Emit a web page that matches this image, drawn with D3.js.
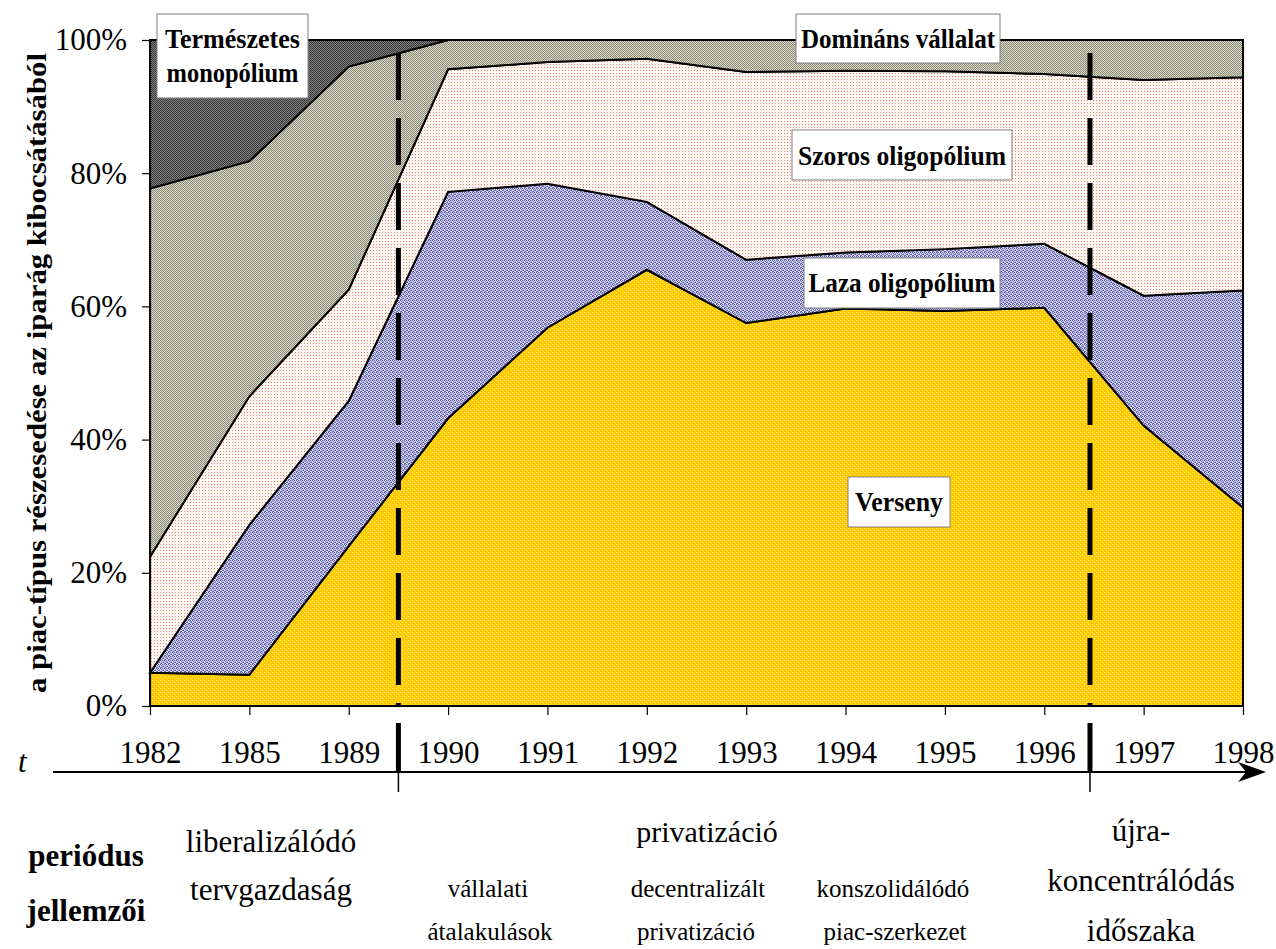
<!DOCTYPE html>
<html lang="hu">
<head>
<meta charset="UTF-8">
<title>Piac-típusok részesedése</title>
<script src="https://cdn.jsdelivr.net/npm/d3@7"></script>
<style>
  body { margin: 0; background: #fff; }
  svg text { font-family: "Liberation Serif", "Times New Roman", serif; fill: #000; }
</style>
</head>
<body>
<script>
// adatok (% az iparág kibocsátásából)
const years = ['1982','1985','1989','1990','1991','1992','1993','1994','1995','1996','1997','1998'];
const verseny     = [5.0, 4.7, 24.0, 43.2, 56.8, 65.5, 57.5, 59.7, 59.3, 59.8, 42.1, 29.8];
const laza        = [0.0, 22.5, 21.8, 34.0, 21.6, 10.2, 9.5, 8.4, 9.3, 9.6, 19.5, 32.6];
const szoros      = [17.4, 19.3, 16.7, 18.4, 18.3, 21.5, 28.2, 27.3, 26.7, 25.5, 32.4, 32.0];
const dominans    = [55.3, 35.3, 33.5, 4.4, 3.3, 2.8, 4.8, 4.6, 4.7, 5.1, 6.0, 5.6];
const termeszetes = [22.3, 18.2, 4.0, 0, 0, 0, 0, 0, 0, 0, 0, 0];
const yTicks = [0, 20, 40, 60, 80, 100];
const seriesKeys = ['verseny', 'laza', 'szoros', 'dominans', 'termeszetes'];
// korszakhatár: két év között, t = hányad a két év közti távolságból
const periodBreaks = [['1989', '1990', 0.5], ['1996', '1997', 0.46]];

const W = 1276, H = 949;
const svg = d3.select('body').append('svg').attr('width', W).attr('height', H);

const x = d3.scalePoint().domain(years).range([150, 1243]);
const y = d3.scaleLinear().domain([0, 100]).range([706, 40]);

// minták
const defs = svg.append('defs');
function pattern(id, size, bg, dots) {
  const p = defs.append('pattern').attr('id', id)
    .attr('patternUnits', 'userSpaceOnUse').attr('width', size).attr('height', size);
  p.append('rect').attr('width', size).attr('height', size).attr('fill', bg);
  dots.forEach(d => p.append('rect').attr('x', d[0]).attr('y', d[1]).attr('width', 1).attr('height', 1).attr('fill', d[2]));
}
pattern('p-verseny', 4, '#FFCC00', [[0,0,'#FFE680'],[2,2,'#FFE680'],[1,3,'#F5C000']]);
pattern('p-laza', 4, '#D4D4EE', [[0,0,'#5A5AAA'],[2,0,'#5A5AAA'],[1,1,'#6E6EB8'],[3,2,'#5A5AAA'],[0,3,'#7A7AC0'],[2,2,'#8080C0'],[3,1,'#9999CC'],[1,3,'#5A5AAA']]);
pattern('p-szoros', 3, '#FFF7F3', [[1,1,'#E28A6C']]);
pattern('p-dominans', 2, '#DADACB', [[0,0,'#8A8A76'],[1,1,'#8A8A76']]);
pattern('p-termeszetes', 2, '#828282', [[0,0,'#363636'],[1,1,'#363636']]);

const rows = years.map((yr, i) => ({
  year: yr, verseny: verseny[i], laza: laza[i], szoros: szoros[i],
  dominans: dominans[i], termeszetes: termeszetes[i]
}));
const stacked = d3.stack().keys(seriesKeys)(rows);

const area = d3.area()
  .x(d => x(d.data.year))
  .y0(d => y(d[0]))
  .y1(d => y(d[1]));

svg.append('g').selectAll('path')
  .data(stacked)
  .join('path')
  .attr('d', area)
  .attr('fill', d => `url(#p-${d.key})`)
  .attr('stroke', '#000')
  .attr('stroke-width', 2)
  .attr('stroke-linejoin', 'miter');

// tengelyek
const yAxis = svg.append('g').attr('transform', 'translate(150,0)')
  .call(d3.axisLeft(y).tickValues(yTicks).tickFormat(d => d + '%').tickSize(8).tickSizeOuter(0).tickPadding(15));
const xAxis = svg.append('g').attr('transform', 'translate(0,706)')
  .call(d3.axisBottom(x).tickSize(9).tickSizeOuter(0).tickPadding(26));
[yAxis, xAxis].forEach(g => {
  g.attr('font-family', null);
  g.selectAll('path,line').attr('stroke', '#000').attr('stroke-width', 1.2);
  g.selectAll('text').attr('font-size', 31);
});

// y tengely címe
svg.append('text')
  .attr('transform', 'translate(46,373) rotate(-90)')
  .attr('text-anchor', 'middle')
  .attr('font-size', 27).attr('font-weight', 'bold')
  .attr('textLength', 640).attr('lengthAdjust', 'spacingAndGlyphs')
  .text('a piac-típus részesedése az iparág kibocsátásából');

// szaggatott korszakhatárok
const breakX = periodBreaks.map(b => x(b[0]) + b[2] * (x(b[1]) - x(b[0])));
svg.append('g').selectAll('line').data(breakX).join('line')
  .attr('x1', d => d).attr('x2', d => d)
  .attr('y1', 53).attr('y2', 706)
  .attr('stroke', '#000').attr('stroke-width', 5).attr('stroke-dasharray', '47,18');

// címkék
const labels = [
  { lines: ['Természetes', 'monopólium'], box: [157, 14, 151, 84], base: [48, 82], len: [135, 132] },
  { lines: ['Domináns vállalat'], box: [796, 14, 204, 49], base: [48], len: [194] },
  { lines: ['Szoros oligopólium'], box: [792, 130, 220, 50], base: [165], len: [208] },
  { lines: ['Laza oligopólium'], box: [804, 258, 196, 50], base: [292], len: [187] },
  { lines: ['Verseny'], box: [848, 477, 102, 50], base: [511], len: [88] }
];
labels.forEach(l => {
  const [bx, by, bw, bh] = l.box;
  svg.append('rect').attr('x', bx).attr('y', by).attr('width', bw).attr('height', bh)
    .attr('fill', '#fff').attr('stroke', '#808080').attr('stroke-width', 1);
  l.lines.forEach((t, i) => svg.append('text')
    .attr('x', bx + bw / 2).attr('y', l.base[i])
    .attr('text-anchor', 'middle').attr('font-size', 27).attr('font-weight', 'bold')
    .attr('textLength', l.len[i]).attr('lengthAdjust', 'spacingAndGlyphs')
    .text(t));
});

// idő tengely
svg.append('line').attr('x1', 53).attr('x2', 1248).attr('y1', 772).attr('y2', 772)
  .attr('stroke', '#000').attr('stroke-width', 2);
svg.append('path').attr('d', 'M1266,772 L1238,762 L1246,772 L1238,782 Z').attr('fill', '#000');
svg.append('text').attr('x', 18).attr('y', 772).attr('font-size', 31).attr('font-style', 'italic').text('t');
breakX.forEach(bx => {
  svg.append('line').attr('x1', bx).attr('x2', bx).attr('y1', 723).attr('y2', 772)
    .attr('stroke', '#000').attr('stroke-width', 5);
  svg.append('line').attr('x1', bx).attr('x2', bx).attr('y1', 772).attr('y2', 792)
    .attr('stroke', '#000').attr('stroke-width', 1.5);
});

// periódus jellemzői
const notes = [
  { t: 'periódus', x: 86, y: 866, s: 31, b: true },
  { t: 'jellemzői', x: 86, y: 921, s: 31, b: true },
  { t: 'liberalizálódó', x: 271, y: 852, s: 31 },
  { t: 'tervgazdaság', x: 271, y: 900, s: 31 },
  { t: 'privatizáció', x: 707, y: 842, s: 30 },
  { t: 'vállalati', x: 488, y: 897, s: 25 },
  { t: 'átalakulások', x: 490, y: 940, s: 25 },
  { t: 'decentralizált', x: 698, y: 897, s: 25 },
  { t: 'privatizáció', x: 696, y: 940, s: 25 },
  { t: 'konszolidálódó', x: 893, y: 897, s: 25 },
  { t: 'piac-szerkezet', x: 895, y: 940, s: 25 },
  { t: 'újra-', x: 1141, y: 841, s: 31 },
  { t: 'koncentrálódás', x: 1141, y: 891, s: 31 },
  { t: 'időszaka', x: 1141, y: 941, s: 31 }
];
svg.append('g').selectAll('text').data(notes).join('text')
  .attr('x', d => d.x).attr('y', d => d.y)
  .attr('text-anchor', 'middle')
  .attr('font-size', d => d.s)
  .attr('font-weight', d => d.b ? 'bold' : 'normal')
  .text(d => d.t);
</script>
</body>
</html>
